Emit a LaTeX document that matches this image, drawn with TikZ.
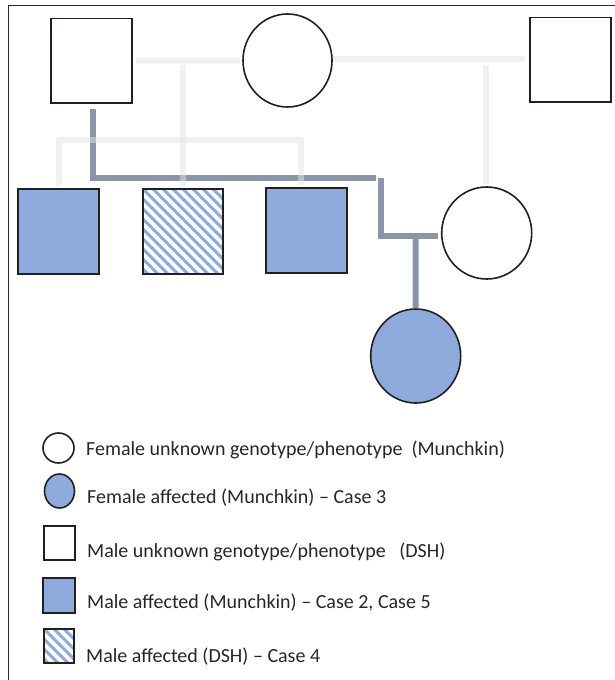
\documentclass[tikz,border=0pt]{standalone}
\usepackage{fontspec}
\setmainfont{Carlito}
\usetikzlibrary{shapes.geometric}
\definecolor{affblue}{HTML}{8FAADC}
\definecolor{conndark}{HTML}{8A96A7}
\definecolor{connlight}{HTML}{E4E4E4}
\definecolor{edgeblack}{HTML}{231F20}
\definecolor{textgray}{HTML}{262626}
\tikzset{
  malebox/.style={draw=edgeblack, line width=1.8pt, rectangle, inner sep=0pt},
  femalecirc/.style={draw=edgeblack, line width=1.6pt, ellipse, inner sep=0pt},
  affected/.style={fill=affblue},
  hatched/.style={fill=white, path picture={
      \foreach \i in {-10,...,9}{
        \draw[affblue, line width=3pt] ([xshift=\i*10pt]path picture bounding box.north west) -- ++(100,100);
      }}},
  lightline/.style={connlight, line width=6pt, draw opacity=0.5},
  darkline/.style={conndark, line width=6pt},
  legendtext/.style={anchor=base west, inner sep=0pt, text=textgray, font=\fontsize{20}{24}\selectfont},
}
\begin{document}
\begin{tikzpicture}[x=1pt,y=-1pt]
\useasboundingbox (0,0) rectangle (614,680);
% frame
\draw[line width=1.5pt, textgray] (8.6,684) -- (8.6,5.3) -- (620,5.3);

% connector coordinates
\coordinate (mid1) at (183,65);
\coordinate (mid2) at (485.5,65);
\coordinate (bl) at (58.5,140);
\coordinate (br) at (300.5,140);
\coordinate (d1) at (93,109);
\coordinate (d2) at (93,177.5);
\coordinate (d3) at (376,177.5);
\coordinate (d4) at (381,178);
\coordinate (d5) at (381,236);
\coordinate (d6) at (438,236);
\coordinate (d7) at (415.5,236);

% pedigree nodes
\node[malebox, minimum width=81pt, minimum height=84.5pt] (gf) at (91.5,60.75) {};
\node[femalecirc, minimum width=89pt, minimum height=93pt] (gm) at (287.5,60.5) {};
\node[malebox, minimum width=81pt, minimum height=84.5pt] (sire2) at (570.5,59.75) {};
\node[malebox, affected, minimum width=81pt, minimum height=85pt] (c1) at (58.5,231.5) {};
\node[malebox, hatched, minimum width=80pt, minimum height=85pt] (c2) at (183,231.5) {};
\node[malebox, affected, minimum width=81pt, minimum height=85pt] (c3) at (306.5,230.5) {};
\node[femalecirc, minimum width=90pt, minimum height=92pt] (dam) at (486.7,233) {};
\node[femalecirc, affected, minimum width=90pt, minimum height=94pt] (case3) at (415.7,356) {};

% dark connectors
\draw[darkline, line join=miter] (d1) -- (d2) -- (d3);
\draw[darkline, line join=miter] (d4) -- (d5) -- (d6);
\draw[darkline] (d7) -- (case3.north);

% light connectors (drawn over the dark ones, half transparent)
\draw[lightline, shorten <=3pt, shorten >=2pt] (gf.east) -- (gm.west);
\draw[lightline, shorten >=4pt] ([yshift=2pt]gm.east) -- ([yshift=2pt]gm.east -| sire2.west);
\draw[lightline, shorten >=2pt] (mid1) -- (c2.north);
\draw[lightline, shorten >=2pt] (mid2) -- (mid2 |- dam.north);
\draw[lightline, line join=miter, shorten <=2pt, shorten >=2pt] (c1.north) -- (bl) -- (br) -- (br |- c3.north);

% legend
\node[femalecirc, minimum width=31pt, minimum height=30pt] (lg1) at (58.5,448) {};
\node[femalecirc, affected, minimum width=30pt, minimum height=34pt] (lg2) at (59.5,491) {};
\node[malebox, minimum width=31pt, minimum height=34pt] (lg3) at (59.5,543) {};
\node[malebox, affected, minimum width=32pt, minimum height=35pt] (lg4) at (59,595.5) {};
\node[malebox, hatched, minimum width=30pt, minimum height=34pt] (lg5) at (59,646) {};

\node[legendtext] (t1) at (86,455) {Female unknown genotype/phenotype\ \ (Munchkin)};
\node[legendtext] (t2) at (87,503) {Female affected (Munchkin) – Case 3};
\node[legendtext] (t3) at (87,557) {Male unknown genotype/phenotype\ \ \ (DSH)};
\node[legendtext] (t4) at (87,608) {Male affected (Munchkin) – Case 2, Case 5};
\node[legendtext] (t5) at (86,662) {Male affected (DSH) – Case 4};
\end{tikzpicture}
\end{document}
